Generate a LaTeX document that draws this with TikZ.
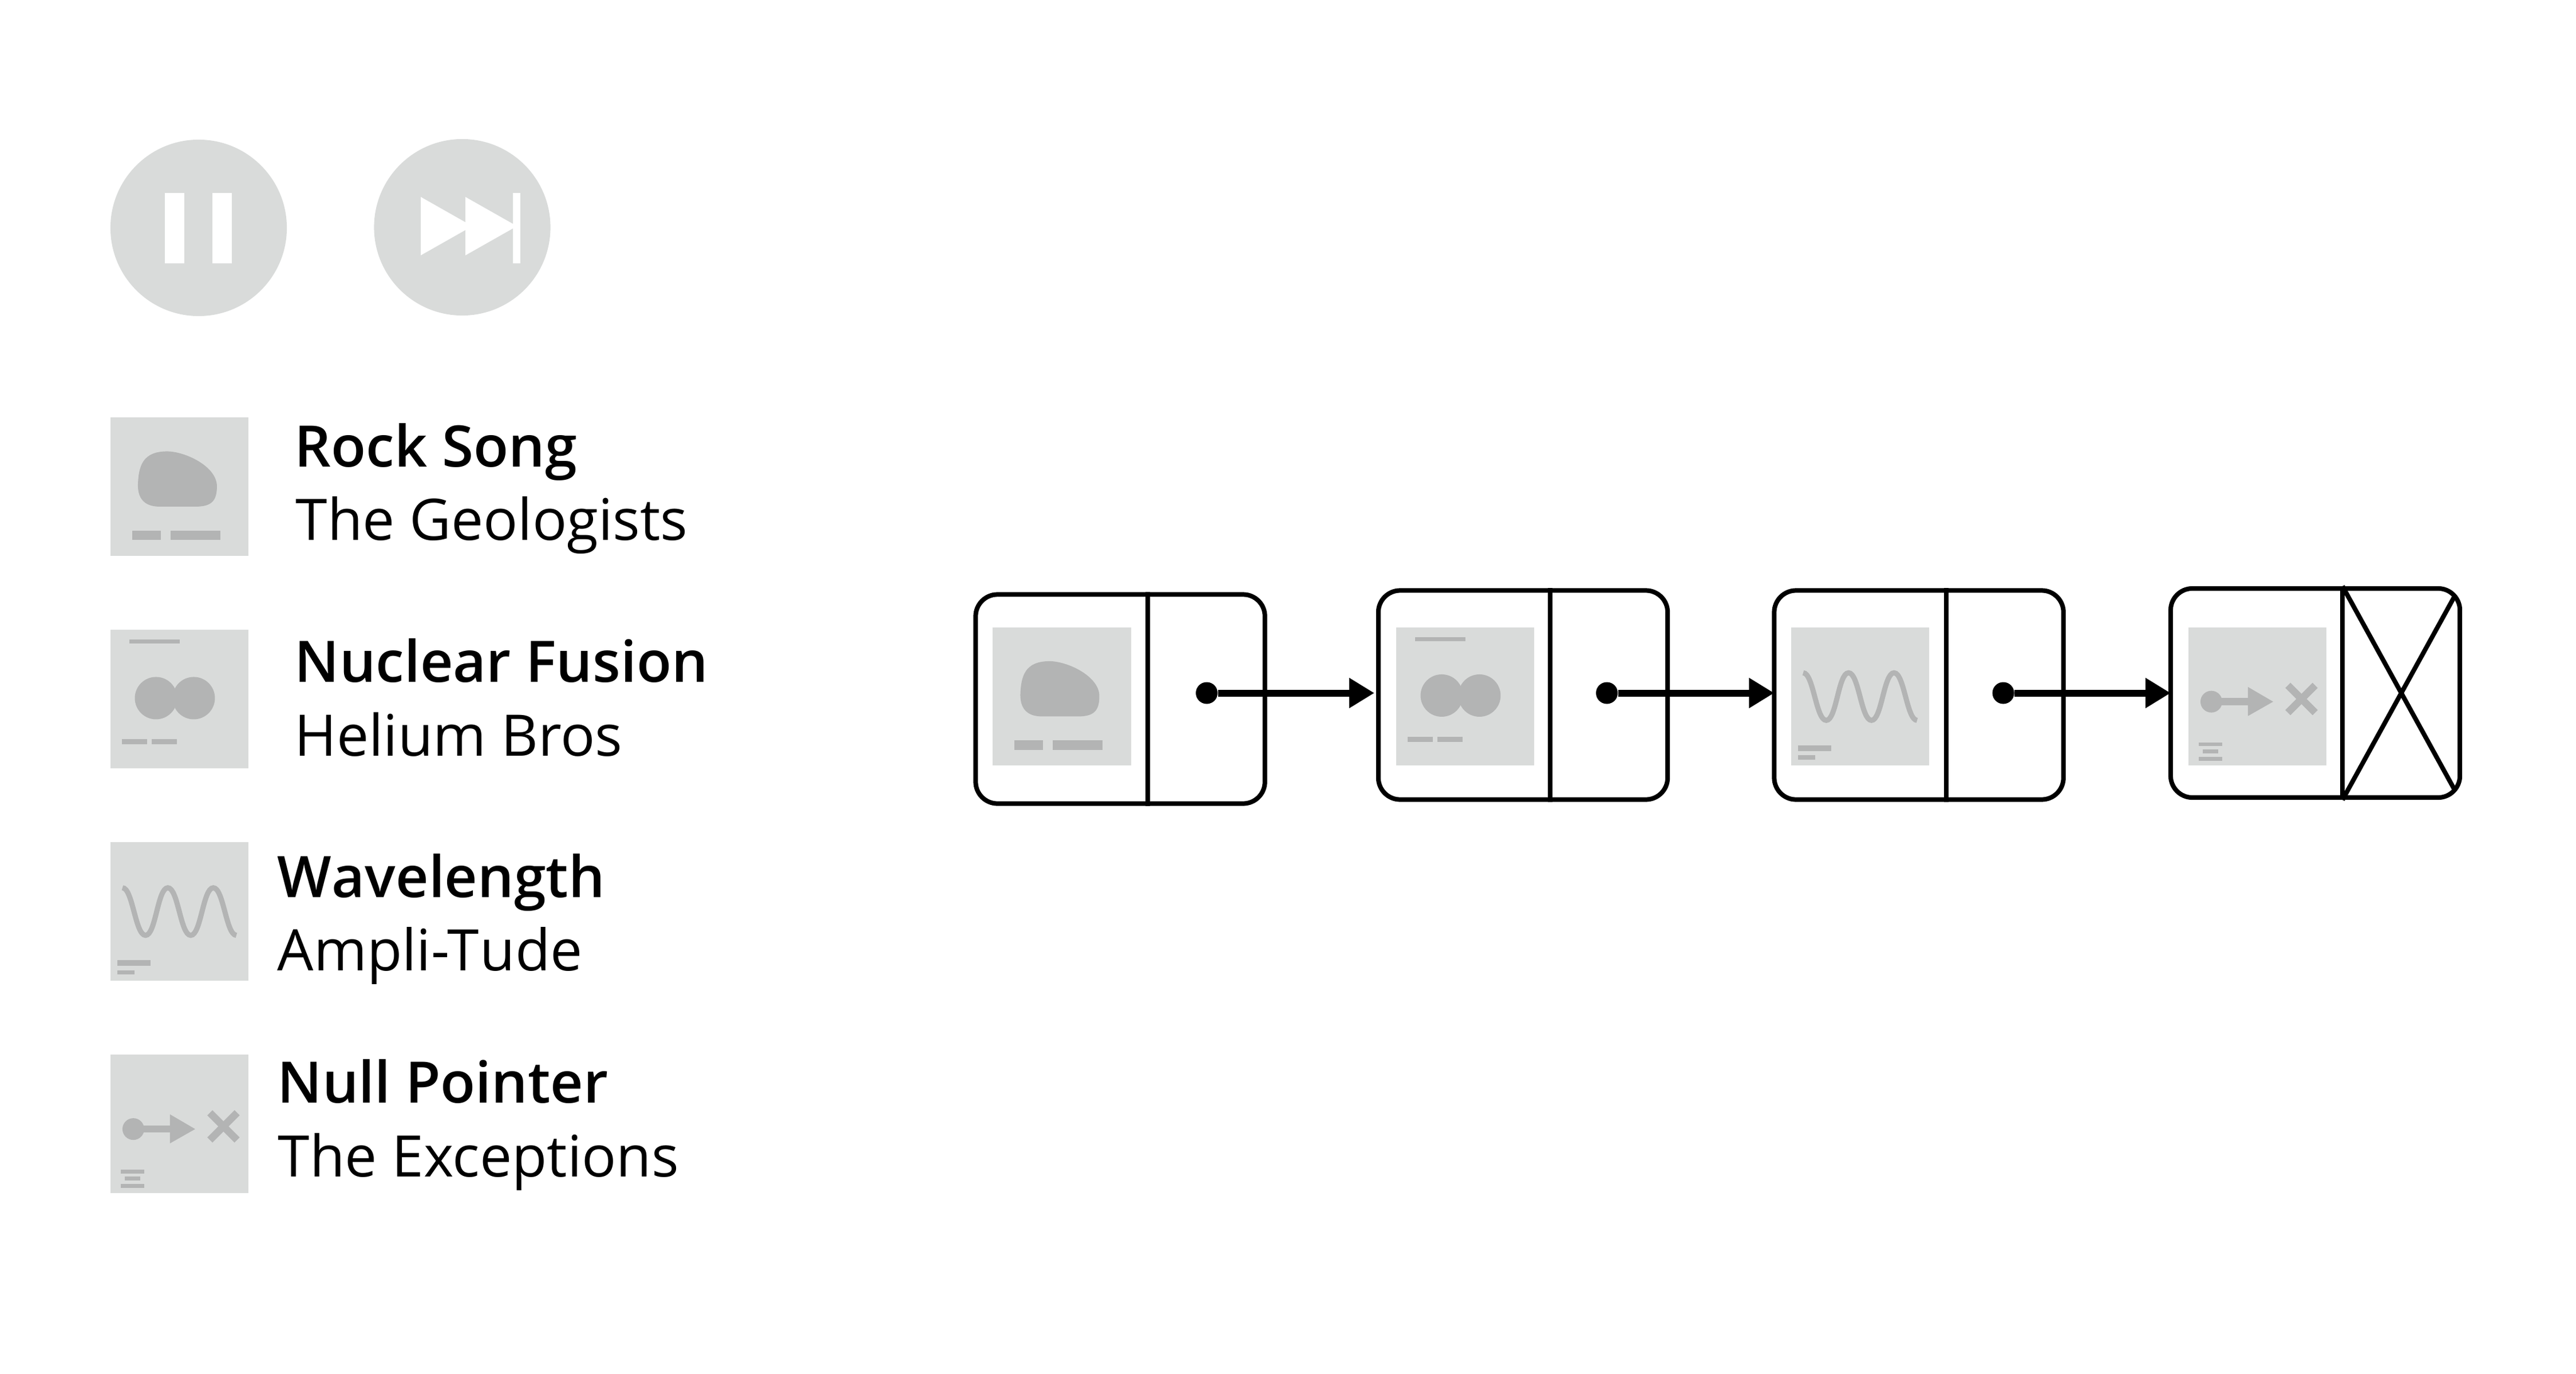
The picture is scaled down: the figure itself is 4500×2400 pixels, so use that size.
\documentclass[tikz,border=0pt]{standalone}
\usepackage{fontspec}
\setmainfont{Open Sans}[BoldFont={Open Sans Semibold}]
\usetikzlibrary{arrows.meta}
\definecolor{tilegray}{HTML}{D9DBDA}
\definecolor{artgray}{HTML}{B3B4B4}

\tikzset{
  rockart/.pic={
    \fill[artgray] (99,59) .. controls (130,59) and (186,85) .. (186,120) .. controls (186,146) and (176,155) .. (150,155.5) -- (85,155.5) .. controls (58,155) and (48,140) .. (48,118) .. controls (49,85) and (56,59) .. (99,59);
    \fill[artgray] (38,197.5) rectangle (88,214);
    \fill[artgray] (105,197.5) rectangle (192,214);
  },
  fusionart/.pic={
    \fill[artgray] (33,17) rectangle (121,24);
    \fill[artgray] (79.6,119) circle (37);
    \fill[artgray] (145.5,119) circle (37);
    \fill[artgray] (20,191) rectangle (64,200);
    \fill[artgray] (72,191) rectangle (116,200);
  },
  waveart/.pic={
    \draw[artgray,line width=0.09cm] (21,79.3) .. controls +(18,0) and +(-18,0) .. (61.3,162.3)
      .. controls +(18,0) and +(-18,0) .. (100.3,79.3)
      .. controls +(18,0) and +(-18,0) .. (140.3,162.3)
      .. controls +(18,0) and +(-18,0) .. (179.7,79.3)
      .. controls +(18,0) and +(-18,0) .. (220,162.3);
    \fill[artgray] (12.5,206) rectangle (70.5,216);
    \fill[artgray] (12.5,223.3) rectangle (42,231);
  },
  nullart/.pic={
    \fill[artgray] (40,129.7) circle (19);
    \fill[artgray] (40,123.5) rectangle (105,135.9);
    \fill[artgray] (104,104) -- (148,129.7) -- (104,154.7) -- cycle;
    \draw[artgray,line width=0.127cm] (173.7,101.2) -- (221.3,148.8);
    \draw[artgray,line width=0.127cm] (221.3,101.2) -- (173.7,148.8);
    \fill[artgray] (18.2,200.7) rectangle (59.3,207.3);
    \fill[artgray] (24.6,213) rectangle (52.5,220);
    \fill[artgray] (18.2,226) rectangle (59.3,232.7);
  }
}

\begin{document}
\begin{tikzpicture}[x=0.01cm,y=-0.01cm]
\tikzstyle{button}=[circle,fill=tilegray,inner sep=0,outer sep=0,minimum size=3.08cm]
\tikzstyle{tile}=[rectangle,fill=tilegray,inner sep=0,outer sep=0,minimum size=2.41cm]
\tikzstyle{song}=[anchor=base west,inner sep=0,font=\fontsize{28.45}{34}\selectfont\bfseries]
\tikzstyle{band}=[anchor=base west,inner sep=0,font=\fontsize{28.45}{34}\selectfont]
\tikzstyle{cell}=[rectangle,draw=black,line width=0.08cm,rounded corners=0.38cm,inner sep=0,minimum width=5.05cm,minimum height=3.65cm]
\tikzstyle{wall}=[black,line width=0.08cm]
\tikzstyle{dot}=[circle,fill=black,inner sep=0,minimum size=0.38cm]
\tikzstyle{pointer}=[black,line width=0.12cm,-{Triangle[length=0.44cm,width=0.5cm]}]

\useasboundingbox (0,0) rectangle (4500,2400);

% controls
\node[button] (pause) at (347,398) {};
\node[button] (skip) at (807.5,397) {};
\fill[white] (288,337) rectangle (322,460);
\fill[white] (371,337) rectangle (405,460);
\fill[white] (735,344) -- (825,395) -- (735,446) -- cycle;
\fill[white] (813,344) -- (903,395) -- (813,446) -- cycle;
\fill[white] (896,337) rectangle (909,460);

% playlist
\node[tile] (tile1) at (313.5,850) {};
\node[tile] (tile2) at (313.5,1221) {};
\node[tile] (tile3) at (313.5,1592) {};
\node[tile] (tile4) at (313.5,1963) {};
\pic at (tile1.north west) {rockart};
\pic at (tile2.north west) {fusionart};
\pic at (tile3.north west) {waveart};
\pic at (tile4.north west) {nullart};

\node[song] (song1) at (514,815) {Rock Song};
\node[band] (band1) at (516,943) {The Geologists};
\node[song] (song2) at (514,1191) {Nuclear Fusion};
\node[band] (band2) at (514,1320) {Helium Bros};
\node[song] (song3) at (484,1567) {W\kern0.005cm avelength};
\node[band] (band3) at (484,1695) {Ampli-T\kern0.025cm ude};
\node[song] (song4) at (484,1926) {Null Pointer};
\node[band] (band4) at (485,2055) {The Exceptions};

% linked list
\node[cell] (cell1) at (1957,1221) {};
\node[cell] (cell2) at (2660.5,1214) {};
\node[cell] (cell3) at (3352,1214) {};
\node[cell] (cell4) at (4044.5,1210.5) {};

\node[tile] (item1) at (1855,1216.5) {};
\node[tile] (item2) at (2559.5,1216.5) {};
\node[tile] (item3) at (3249.5,1216.5) {};
\node[tile] (item4) at (3943.5,1216.5) {};
\pic at (item1.north west) {rockart};
\pic at (item2.north west) {fusionart};
\pic at (item3.north west) {waveart};
\pic at (item4.north west) {nullart};

\coordinate (wall1) at (2005,1210.5);
\coordinate (wall2) at (2708,1210.5);
\coordinate (wall3) at (3399.5,1210.5);
\coordinate (wall4) at (4092,1210.5);
\draw[wall] (wall1 |- cell1.north) -- (wall1 |- cell1.south);
\draw[wall] (wall2 |- cell2.north) -- (wall2 |- cell2.south);
\draw[wall] (wall3 |- cell3.north) -- (wall3 |- cell3.south);
\draw[wall] (wall4 |- cell4.north) -- (wall4 |- cell4.south);

\node[dot] (dot1) at (2108,1210.5) {};
\node[dot] (dot2) at (2807,1210.5) {};
\node[dot] (dot3) at (3499.5,1210.5) {};
\draw[pointer,shorten >=0.03cm] (dot1) -- (dot1 -| cell2.west);
\draw[pointer,shorten >=-0.04cm] (dot2) -- (dot2 -| cell3.west);
\draw[pointer,shorten >=-0.04cm] (dot3) -- (dot3 -| cell4.west);

% null cell
\coordinate (cnr1) at (4287,1043);
\coordinate (cnr2) at (4287,1378);
\draw[wall] (wall4 |- cell4.north) -- (cnr2);
\draw[wall] (wall4 |- cell4.south) -- (cnr1);

\end{tikzpicture}
\end{document}
